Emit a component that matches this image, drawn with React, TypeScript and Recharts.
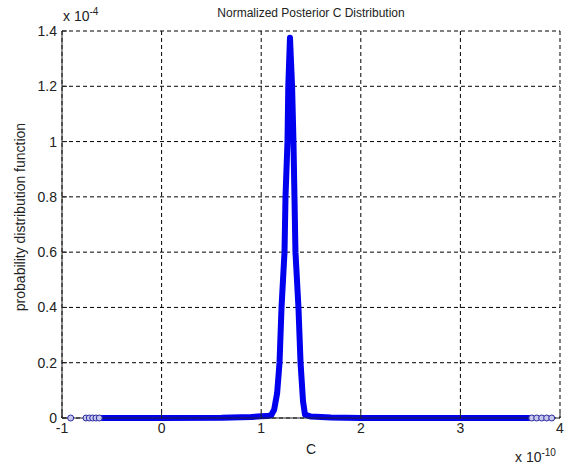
import { ComposedChart, Line, XAxis, YAxis, CartesianGrid } from 'recharts';

// values in units of 1e-10 (C) and 1e-4 (pdf)
const curveC = [
  -0.62, 0.0, 0.6, 0.9, 1.0, 1.06, 1.1, 1.13, 1.16, 1.184, 1.204, 1.234, 1.244, 1.264, 1.272,
  1.289, 1.31, 1.324, 1.334, 1.344, 1.374, 1.395, 1.42, 1.44, 1.5, 1.7, 2.0, 3.7,
];
const curvePdf = [
  0, 0, 0.001, 0.004, 0.006, 0.007, 0.01, 0.03, 0.09, 0.2, 0.4, 0.6, 0.8, 1.0, 1.2,
  1.376, 1.2, 1.0, 0.8, 0.6, 0.4, 0.2, 0.06, 0.012, 0.005, 0.002, 0, 0,
];
const markerC = [-0.913, -0.759, -0.726, -0.692, -0.659, -0.626, 3.716, 3.766, 3.816, 3.866, 3.917];
const xTicks = [-1, 0, 1, 2, 3, 4];
const yTicks = [0, 0.2, 0.4, 0.6, 0.8, 1, 1.2, 1.4];

const curve = curveC.map((c, i) => ({ c, p: curvePdf[i] }));
const markers = markerC.map((c) => ({ c, p: 0 }));

const font = '"Liberation Sans", Arial, sans-serif';
const txt = { position: 'absolute' as const, fontFamily: font, color: '#222', whiteSpace: 'nowrap' as const };

export default function App() {
  return (
    <div style={{ position: 'absolute', left: 0, top: 0, width: 569, height: 467, background: '#fff' }}>
      <ComposedChart width={569} height={467} margin={{ top: 31, right: 9, bottom: 0, left: 8 }}>
        <CartesianGrid stroke="#000" strokeDasharray="4 3" />
        <XAxis
          type="number"
          dataKey="c"
          domain={[-1, 4]}
          ticks={xTicks}
          allowDuplicatedCategory={false}
          height={49}
          tickSize={-5}
          tickMargin={10}
          stroke="#222"
          tick={{ fill: '#222', fontSize: 14, fontFamily: font }}
        />
        <YAxis
          type="number"
          domain={[0, 1.4]}
          ticks={yTicks}
          width={54}
          tickSize={-5}
          tickMargin={10}
          stroke="#222"
          tick={{ fill: '#222', fontSize: 14, fontFamily: font }}
          tickFormatter={(v: number) => String(v)}
        />
        <Line
          data={curve}
          dataKey="p"
          type="linear"
          stroke="#0000ee"
          strokeWidth={6}
          strokeLinejoin="round"
          dot={false}
          isAnimationActive={false}
        />
        <Line
          data={markers}
          dataKey="p"
          type="linear"
          stroke="none"
          dot={{ r: 3, stroke: '#2a2aa0', strokeWidth: 1, fill: '#c8c8ee' }}
          isAnimationActive={false}
        />
      </ComposedChart>
      <div style={{ ...txt, left: 311, top: 6, fontSize: 12, transform: 'translateX(-50%)' }}>
        Normalized Posterior C Distribution
      </div>
      <div style={{ ...txt, left: 63, top: 6, fontSize: 14 }}>
        x 10<sup style={{ fontSize: 10, verticalAlign: 6 }}>-4</sup>
      </div>
      <div style={{ ...txt, left: 515, top: 447, fontSize: 14 }}>
        x 10<sup style={{ fontSize: 10, verticalAlign: 6 }}>-10</sup>
      </div>
      <div style={{ ...txt, left: 311, top: 441, fontSize: 14, transform: 'translateX(-50%)' }}>C</div>
      <div
        style={{
          ...txt,
          left: 20,
          top: 217,
          fontSize: 14,
          transform: 'translate(-50%, -50%) rotate(-90deg)',
        }}
      >
        probability distribution function
      </div>
    </div>
  );
}
